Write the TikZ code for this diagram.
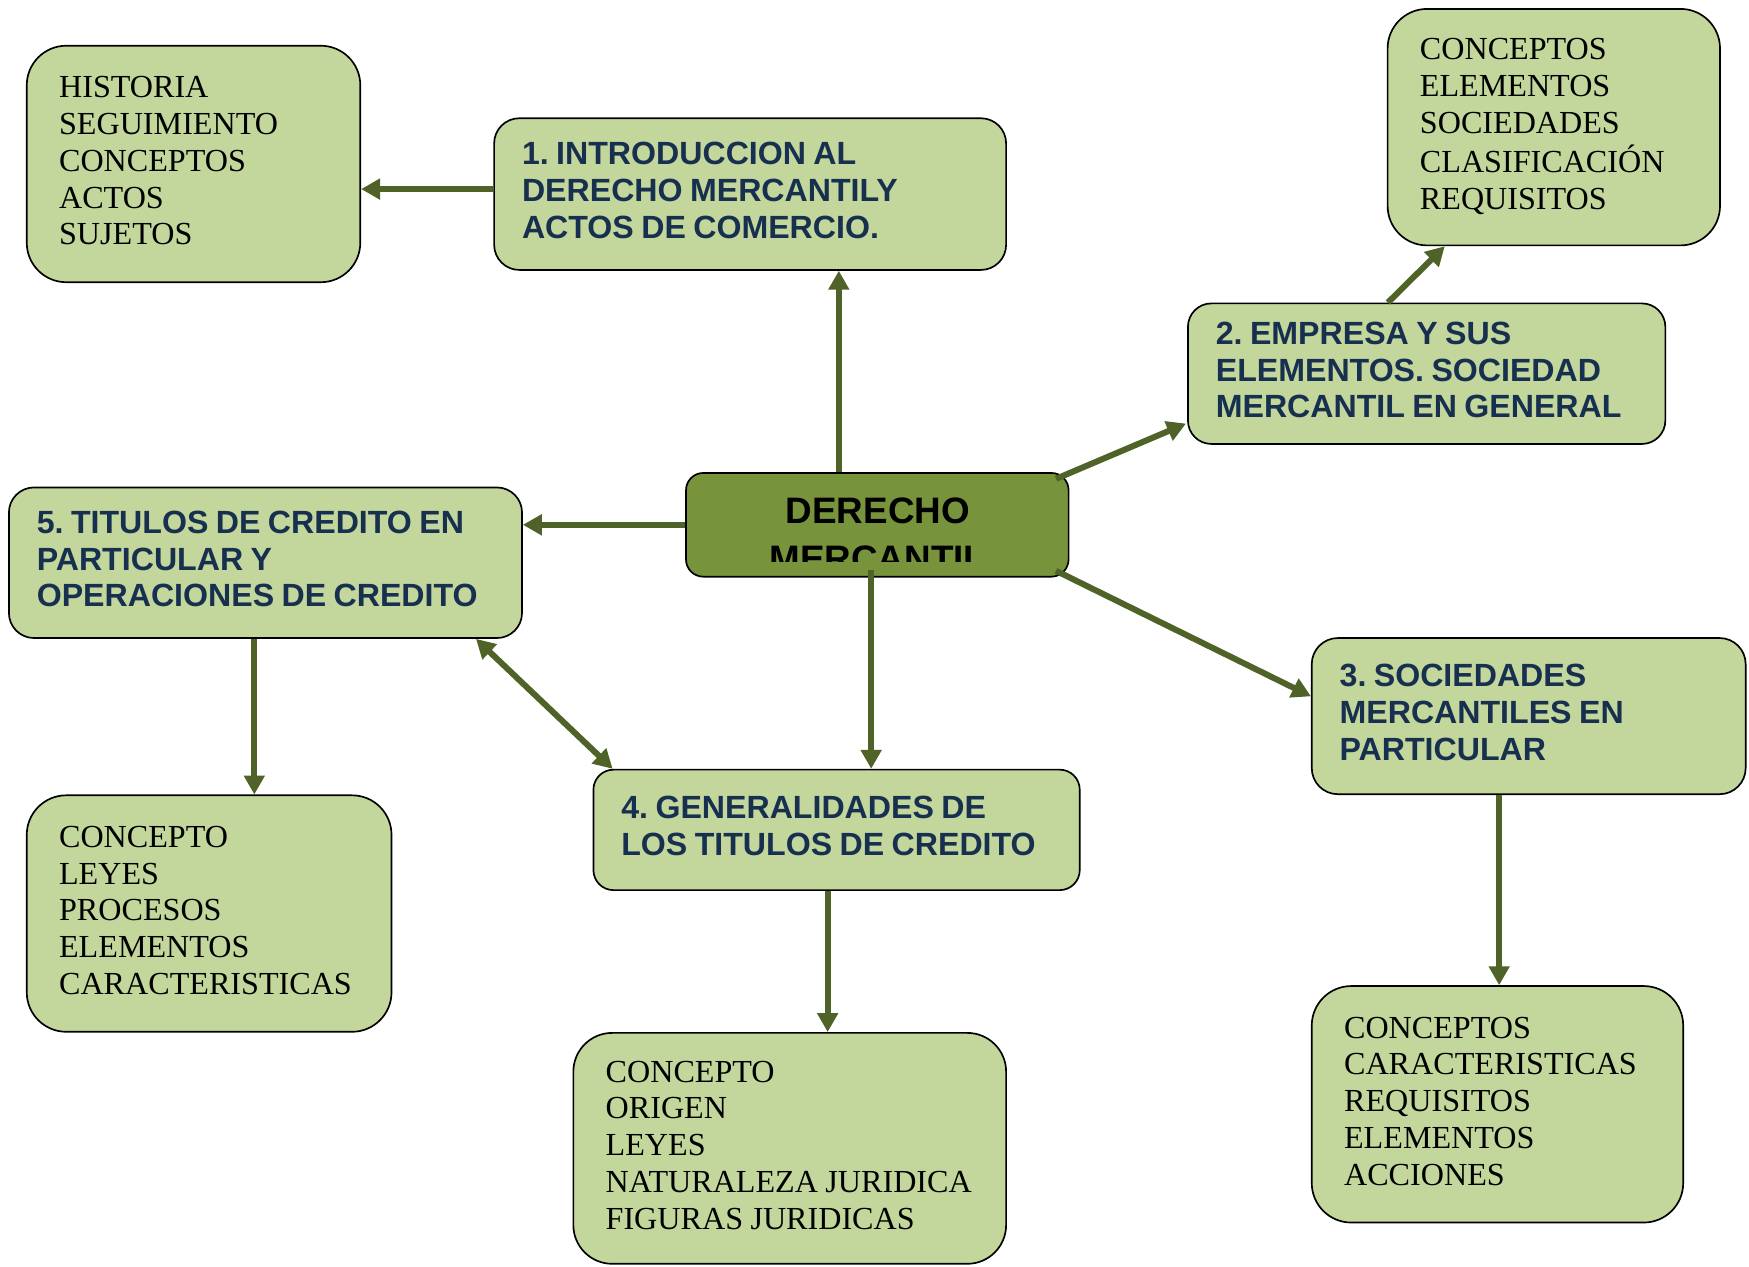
\documentclass[tikz,border=0pt]{standalone}
\usepackage{fontspec}
\setmainfont{Liberation Serif}
\setsansfont{Liberation Sans}
\usetikzlibrary{arrows.meta,calc}
\definecolor{boxg}{HTML}{C3D69B}
\definecolor{ctrg}{HTML}{77933C}
\definecolor{arrc}{HTML}{4F6228}
\definecolor{navyt}{HTML}{17304F}
\frenchspacing
\newcommand{\SerList}[1]{{\fontsize{14.4pt}{16.5pt}\selectfont\begin{tabular}{@{}l@{}}#1\end{tabular}}}
\newcommand{\SanList}[1]{{\sffamily\bfseries\color{navyt}\fontsize{14.4pt}{16.5pt}\selectfont\begin{tabular}{@{}l@{}}#1\end{tabular}}}
\tikzset{
  gbox/.style={draw=black, line width=0.75pt, fill=boxg, inner xsep=0pt, inner ysep=0pt},
  sbox/.style n args={4}{gbox, minimum width=#1, minimum height=#2, rounded corners=#3, text width=#4},
  cbox/.style={draw=black, line width=0.75pt, fill=ctrg, minimum width=171.5pt, minimum height=46.5pt, rounded corners=7.75pt, inner sep=0pt},
  ctext/.style={inner sep=0pt, font=\sffamily\bfseries\fontsize{16.5pt}{19pt}\selectfont, text=black},
  arr/.style={draw=arrc, line width=2.7pt, -{Triangle[length=8.5pt,width=9pt]}},
  darr/.style={draw=arrc, line width=2.7pt, {Triangle[length=8.5pt,width=9pt]}-{Triangle[length=8.5pt,width=9pt]}}
}
\begin{document}
\begin{tikzpicture}[x=0.5pt,y=-0.5pt]
\fill[white] (0,0) rectangle (1568,1135);
\useasboundingbox (0,0) rectangle (1568,1135);

\node[sbox={149.5pt}{106pt}{17.7pt}{120.5pt}] (h) at (173.5,147)
  {\SerList{HISTORIA\\SEGUIMIENTO\\CONCEPTOS\\ACTOS\\SUJETOS}};
\node[sbox={229.5pt}{68pt}{11.3pt}{204.5pt}] (b1) at (672.5,174)
  {\SanList{1. INTRODUCCION AL\\DERECHO MERCANTILY\\ACTOS DE COMERCIO.}};
\node[sbox={149pt}{106pt}{17.7pt}{120pt}] (tr) at (1393,114)
  {\SerList{CONCEPTOS\\ELEMENTOS\\SOCIEDADES\\CLASIFICACIÓN\\REQUISITOS}};
\node[sbox={214pt}{63pt}{10.5pt}{189pt}] (b2) at (1279,335)
  {\SanList{2. EMPRESA Y SUS\\ELEMENTOS. SOCIEDAD\\MERCANTIL EN GENERAL}};
\node[sbox={230pt}{67.5pt}{11.25pt}{205pt}] (b5) at (238,504.5)
  {\SanList{5. TITULOS DE CREDITO EN\\PARTICULAR Y\\OPERACIONES DE CREDITO}};
\node[sbox={218pt}{54pt}{9pt}{193pt}] (b4) at (750,744)
  {\SanList{4. GENERALIDADES DE\\LOS TITULOS DE CREDITO}};
\node[sbox={194.5pt}{70pt}{11.7pt}{169.5pt}] (b3) at (1370.5,642)
  {\SanList{3. SOCIEDADES\\MERCANTILES EN\\PARTICULAR}};
\node[sbox={163.5pt}{106pt}{17.7pt}{134.5pt}] (bl) at (187.5,819)
  {\SerList{CONCEPTO\\LEYES\\PROCESOS\\ELEMENTOS\\CARACTERISTICAS}};
\node[sbox={194pt}{103.5pt}{17.4pt}{165pt}] (bc) at (708,1029.5)
  {\SerList{CONCEPTO\\ORIGEN\\LEYES\\NATURALEZA JURIDICA\\FIGURAS JURIDICAS}};
\node[sbox={166.5pt}{106pt}{17.7pt}{137.5pt}] (br) at (1342.5,990)
  {\SerList{CONCEPTOS\\CARACTERISTICAS\\REQUISITOS\\ELEMENTOS\\ACCIONES}};

% central node
\node[cbox] (c) at (786.5,470.5) {};
\node[ctext, anchor=base] (ct1) at (787,469) {DERECHO};
\begin{scope}
  \clip (615,424) rectangle (958,503.5);
  \node[ctext, anchor=base] (ct2) at (787,512) {MERCANTIL};
\end{scope}

% connectors
\draw[arr] ([yshift=2.25pt]b1.west) -- ([yshift=2.25pt]b1.west -| h.east);
\draw[arr] ([xshift=-17.25pt]c.north) -- ([xshift=-17.25pt]c.north |- b1.south);
\draw[arr] ([xshift=-6pt,yshift=-3pt]c.north east) -- ([xshift=-0.5pt,yshift=9.5pt]b2.south west);
\draw[arr] ([xshift=90pt]b2.north west) -- ([xshift=26pt]tr.south west);
\draw[arr] (c.west) -- (c.west -| b5.east);
\draw[arr] ([xshift=-2.75pt,yshift=3.5pt]c.south) -- ([xshift=-2.75pt]c.south |- b4.north);
\draw[arr] ([xshift=-6pt,yshift=3pt]c.south east) -- ([yshift=-26.5pt]b3.north west);
\draw[darr] ([xshift=-21pt]b5.south east) -- ([xshift=9pt]b4.north west);
\draw[arr] ([xshift=-5pt]b5.south) -- ([xshift=-5pt]b5.south |- bl.north);
\draw[arr] ([xshift=-4pt]b4.south) -- ([xshift=-4pt]b4.south |- bc.north);
\draw[arr] ([xshift=-13.25pt]b3.south) -- ([xshift=-13.25pt]b3.south |- br.north);
\end{tikzpicture}
\end{document}
